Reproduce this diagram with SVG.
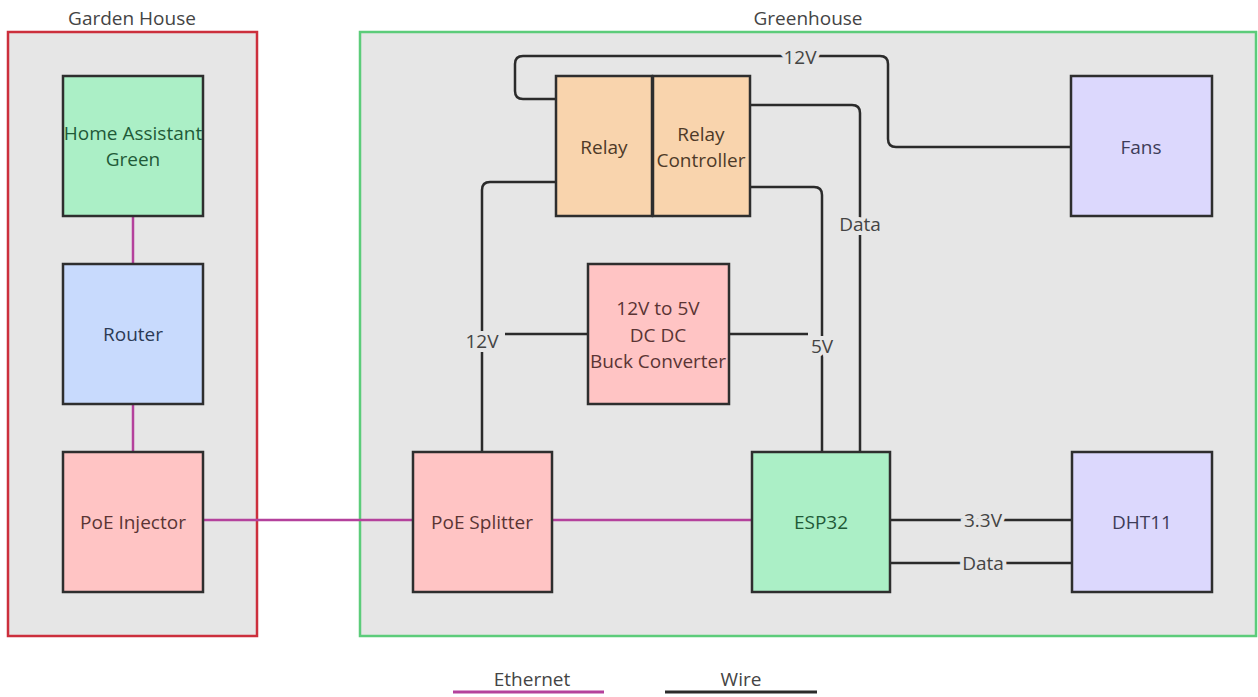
<svg xmlns="http://www.w3.org/2000/svg" width="1258" height="697" viewBox="0 0 1258 697">
<style>
text{font-family:"Open Sans","Noto Sans","Liberation Sans",sans-serif;font-size:19px;text-anchor:middle;dominant-baseline:central}
.title{fill:#444}
.node{stroke:#2e2e2e;stroke-width:2.5}
.wire{fill:none;stroke:#2b2b2b;stroke-width:2.5;stroke-linejoin:round}
.eth{fill:none;stroke:#b4419c;stroke-width:2.5}
.wl{fill:#444;stroke:#e6e6e6;stroke-width:8;paint-order:stroke}
</style>
<rect width="1258" height="697" fill="#ffffff"/>
<g id="garden-house">
<rect x="8" y="32" width="249" height="604" fill="#e6e6e6" stroke="#cc2f3c" stroke-width="2.5"/>
<text class="title" x="132" y="18">Garden House</text>
</g>
<g id="greenhouse">
<rect x="360" y="32" width="896" height="604" fill="#e6e6e6" stroke="#5ccc7a" stroke-width="2.5"/>
<text class="title" x="808" y="18">Greenhouse</text>
</g>
<g id="connectors">
<path class="eth" d="M133 216 V264"/>
<path class="eth" d="M133 404 V452"/>
<path class="eth" d="M203 520 H413"/>
<path class="eth" d="M552 520 H752"/>
<path class="wire" d="M556 99 H523 Q515 99 515 91 V64 Q515 56 523 56 H880 Q888 56 888 64 V139 Q888 147 896 147 H1071"/>
<path class="wire" d="M556 182 H490 Q482 182 482 190 V452"/>
<path class="wire" d="M588 334 H505"/>
<path class="wire" d="M750 187 H814 Q822 187 822 195 V452"/>
<path class="wire" d="M729 334 H808"/>
<path class="wire" d="M750 105 H852 Q860 105 860 113 V452"/>
<path class="wire" d="M890 520 H1072"/>
<path class="wire" d="M890 563 H1072"/>
<text class="wl" x="800" y="57">12V</text>
<text class="wl" x="482" y="341">12V</text>
<text class="wl" x="822" y="346">5V</text>
<text class="wl" x="860" y="224">Data</text>
<text class="wl" x="983" y="520">3.3V</text>
<text class="wl" x="983" y="563">Data</text>
</g>
<g id="home-assistant-green">
<rect class="node" x="63" y="76" width="140" height="140" fill="#abefc6"/>
<text x="133" y="133" fill="#1f5a38">Home Assistant</text>
<text x="133" y="159" fill="#1f5a38">Green</text>
</g>
<g id="router">
<rect class="node" x="63" y="264" width="140" height="140" fill="#c8dafd"/>
<text x="133" y="334" fill="#2c3a55">Router</text>
</g>
<g id="poe-injector">
<rect class="node" x="63" y="452" width="140" height="140" fill="#ffc4c4"/>
<text x="133" y="522" fill="#5a3434">PoE Injector</text>
</g>
<g id="relay">
<rect class="node" x="556" y="76" width="96" height="140" fill="#f9d4ad"/>
<text x="604" y="147" fill="#4e3a28">Relay</text>
</g>
<g id="relay-controller">
<rect class="node" x="653" y="76" width="97" height="140" fill="#f9d4ad"/>
<text x="701" y="134" fill="#4e3a28">Relay</text>
<text x="701" y="160" fill="#4e3a28">Controller</text>
</g>
<g id="fans">
<rect class="node" x="1071" y="76" width="141" height="140" fill="#dcd8fd"/>
<text x="1141" y="147" fill="#3e3c58">Fans</text>
</g>
<g id="buck-converter">
<rect class="node" x="588" y="264" width="141" height="140" fill="#ffc4c4"/>
<text x="658" y="308" fill="#5a3434">12V to 5V</text>
<text x="658" y="335" fill="#5a3434">DC DC</text>
<text x="658" y="361" fill="#5a3434">Buck Converter</text>
</g>
<g id="poe-splitter">
<rect class="node" x="413" y="452" width="139" height="140" fill="#ffc4c4"/>
<text x="482" y="522" fill="#5a3434">PoE Splitter</text>
</g>
<g id="esp32">
<rect class="node" x="752" y="452" width="138" height="140" fill="#abefc6"/>
<text x="821" y="522" fill="#1f5a38">ESP32</text>
</g>
<g id="dht11">
<rect class="node" x="1072" y="452" width="140" height="140" fill="#dcd8fd"/>
<text x="1142" y="522" fill="#3e3c58">DHT11</text>
</g>
<g id="legend">
<text x="532" y="679" fill="#444">Ethernet</text>
<line x1="453" y1="692" x2="604" y2="692" stroke="#b4419c" stroke-width="3"/>
<text x="741" y="679" fill="#444">Wire</text>
<line x1="665" y1="692" x2="817" y2="692" stroke="#2b2b2b" stroke-width="3"/>
</g>
</svg>
